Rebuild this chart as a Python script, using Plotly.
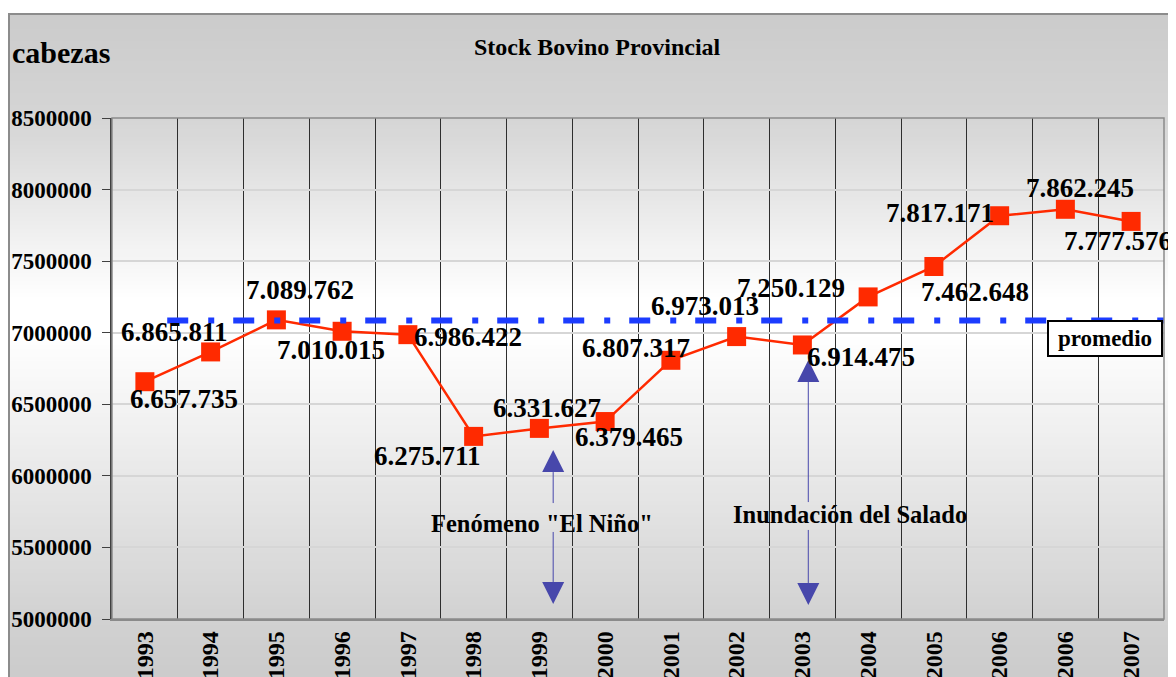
import plotly.graph_objects as go

# ---------------- data ----------------
YEARS = ["1993", "1994", "1995", "1996", "1997", "1998", "1999", "2000",
         "2001", "2002", "2003", "2004", "2005", "2006", "2006", "2007"]
STOCK = [6657735, 6865811, 7089762, 7010015, 6986422, 6275711, 6331627, 6379465,
         6807317, 6973013, 6914475, 7250129, 7462648, 7817171, 7862245, 7777576]
PROMEDIO = 7085000
PROMEDIO_LABEL = "promedio"

Y_TICKS = [5000000, 5500000, 6000000, 6500000, 7000000, 7500000, 8000000, 8500000]

EVENT_TEXT = ['Fenómeno "El Niño"', "Inundación del Salado"]
EVENT_X = [6.21, 10.09]
EVENT_TOP = [6180000, 6810000]        # tip of upper arrow
EVENT_BOTTOM = [5105000, 5098000]     # tip of lower arrow
EVENT_GAP_HI = [5810000, 5817000]     # line interrupted by the text
EVENT_GAP_LO = [5608000, 5622000]
EVENT_TEXT_X = [6.04, 10.72]
EVENT_TEXT_Y = [5664000, 5733000]

TITLE = "Stock Bovino Provincial"
Y_TITLE = "cabezas"

# ---------------- styles / positions ----------------
OFF = 8                      # page body margin
W, H = 1176, 677
L, T = 104, 110
PW, PH = 1052, 501
R, B = W - L - PW, H - T - PH
FONT = "Liberation Serif, Times New Roman, serif"
RED = "#ff2a00"
BLUE = "#1c3cff"
ARROW = "#4747ab"
LABEL_OFFSETS = [(39, 17), (-36, -20), (24, -30), (-11, 19), (60, 2), (-46, 20),
                 (8, -20), (24, 15), (-35, -12), (-32, -31), (59, 12), (-77, -9),
                 (41, 26), (-60, -3), (15, -21), (-13, 20)]
PROMEDIO_START = 0.34
ARROW_SIZE = 22
VALUE_PER_PX = (Y_TICKS[-1] - Y_TICKS[0]) / PH


def px_x(px):
    """page pixel -> paper x"""
    return (px - OFF - L) / PW


def px_y(py):
    """page pixel -> paper y"""
    return (T + PH - (py - OFF)) / PH


fig = go.Figure()

xs = list(range(len(YEARS)))

# stock series
fig.add_trace(go.Scatter(
    x=xs, y=STOCK, mode="lines+markers",
    line=dict(color=RED, width=2.5),
    marker=dict(symbol="square", size=19, color=RED, line=dict(width=0)),
    hoverinfo="skip", showlegend=False))

# promedio line
fig.add_trace(go.Scatter(
    x=[PROMEDIO_START, len(YEARS) - 0.5], y=[PROMEDIO, PROMEDIO], mode="lines",
    line=dict(color=BLUE, width=6, dash="21px,20px,6px,19px"),
    hoverinfo="skip", showlegend=False))

# event arrows
for i in range(len(EVENT_TEXT)):
    up_base = EVENT_TOP[i] - ARROW_SIZE * VALUE_PER_PX
    down_base = EVENT_BOTTOM[i] + ARROW_SIZE * VALUE_PER_PX
    fig.add_trace(go.Scatter(
        x=[EVENT_X[i], EVENT_X[i], None, EVENT_X[i], EVENT_X[i]],
        y=[up_base, EVENT_GAP_HI[i], None, EVENT_GAP_LO[i], down_base],
        mode="lines", line=dict(color=ARROW, width=1),
        hoverinfo="skip", showlegend=False))
    fig.add_trace(go.Scatter(
        x=[EVENT_X[i], EVENT_X[i]], y=[EVENT_TOP[i], EVENT_BOTTOM[i]],
        mode="markers",
        marker=dict(symbol=["arrow-up", "arrow-down"], size=ARROW_SIZE,
                    color=ARROW, line=dict(width=0)),
        hoverinfo="skip", showlegend=False))
    fig.add_annotation(x=EVENT_TEXT_X[i], y=EVENT_TEXT_Y[i], text=EVENT_TEXT[i],
                       showarrow=False, xanchor="center", yanchor="middle",
                       font=dict(family=FONT, size=24.5, color="black", weight="bold"))

# data labels
for i, v in enumerate(STOCK):
    dx, dy = LABEL_OFFSETS[i]
    fig.add_annotation(x=i, y=v, text=f"{v:,}".replace(",", "."), showarrow=False,
                       xanchor="center", yanchor="middle", xshift=dx, yshift=-dy,
                       font=dict(family=FONT, size=27, color="black", weight="bold"))

# promedio legend box
fig.add_annotation(xref="paper", yref="paper", x=px_x(1105), y=px_y(338),
                   text=PROMEDIO_LABEL, showarrow=False, xanchor="center", yanchor="middle",
                   width=110, height=31, bgcolor="white", bordercolor="black", borderwidth=2,
                   font=dict(family=FONT, size=23, color="black", weight="bold"))

# title and unit
fig.add_annotation(xref="paper", yref="paper", x=px_x(597), y=px_y(47), text=TITLE,
                   showarrow=False, xanchor="center", yanchor="middle",
                   font=dict(family=FONT, size=24, color="black", weight="bold"))
fig.add_annotation(xref="paper", yref="paper", x=px_x(10), y=px_y(52), text=Y_TITLE,
                   showarrow=False, xanchor="left", yanchor="middle",
                   font=dict(family=FONT, size=30, color="black", weight="bold"))

# gradient background (gray - white - gray), page coordinates
stops = [(13, 203), (120, 213), (300, 255), (335, 255), (620, 209), (690, 202)]


def shade(py):
    for (y0, c0), (y1, c1) in zip(stops[:-1], stops[1:]):
        if y0 <= py <= y1:
            return c0 + (c1 - c0) * (py - y0) / (y1 - y0)
    return stops[-1][1]


shapes = []
step = 4
for y in range(13, H + 10, step):
    c = int(round(shade(y + step / 2)))
    shapes.append(dict(type="rect", xref="paper", yref="paper", layer="below",
                       x0=px_x(8), x1=px_x(W + 20), y0=px_y(y), y1=px_y(y + step + 1),
                       fillcolor=f"rgb({c},{c},{c})", line=dict(width=0)))
shapes.append(dict(type="rect", xref="paper", yref="paper", layer="below",
                   x0=px_x(9), x1=px_x(W + 30), y0=px_y(14), y1=px_y(H + 30),
                   fillcolor="rgba(0,0,0,0)", line=dict(color="#8c8c8c", width=2)))
# plot area border (top/right)
shapes.append(dict(type="rect", xref="paper", yref="paper", layer="above",
                   x0=0, x1=1, y0=0, y1=1, fillcolor="rgba(0,0,0,0)",
                   line=dict(color="#8a8a8a", width=1.5)))

fig.update_layout(
    width=W, height=H, margin=dict(l=L, r=R, t=T, b=B, autoexpand=False),
    paper_bgcolor="white", plot_bgcolor="white", shapes=shapes,
    xaxis=dict(range=[-0.5, len(YEARS) - 0.5], tickmode="array", tickvals=xs, ticktext=YEARS,
               tickangle=-90, showgrid=False, zeroline=False, ticks="",
               tickfont=dict(family=FONT, size=24, color="black", weight="bold"),
               ticklabelstandoff=1,
               minor=dict(tick0=0.5, dtick=1, showgrid=True, gridcolor="#2e2e2e",
                          gridwidth=1.2, ticks=""),
               showline=True, linecolor="#8a8a8a", linewidth=1.5),
    yaxis=dict(range=[Y_TICKS[0], Y_TICKS[-1]], tickmode="array", tickvals=Y_TICKS,
               ticktext=[str(t) for t in Y_TICKS], showgrid=True, gridcolor="#d6d6d6",
               gridwidth=1.5, zeroline=False, ticks="outside", ticklen=8,
               tickcolor="#404040", tickwidth=1.2,
               tickfont=dict(family=FONT, size=23, color="black", weight="bold"),
               ticklabelstandoff=6,
               showline=True, linecolor="#404040", linewidth=1.5),
)

fig.write_html("out.html")
